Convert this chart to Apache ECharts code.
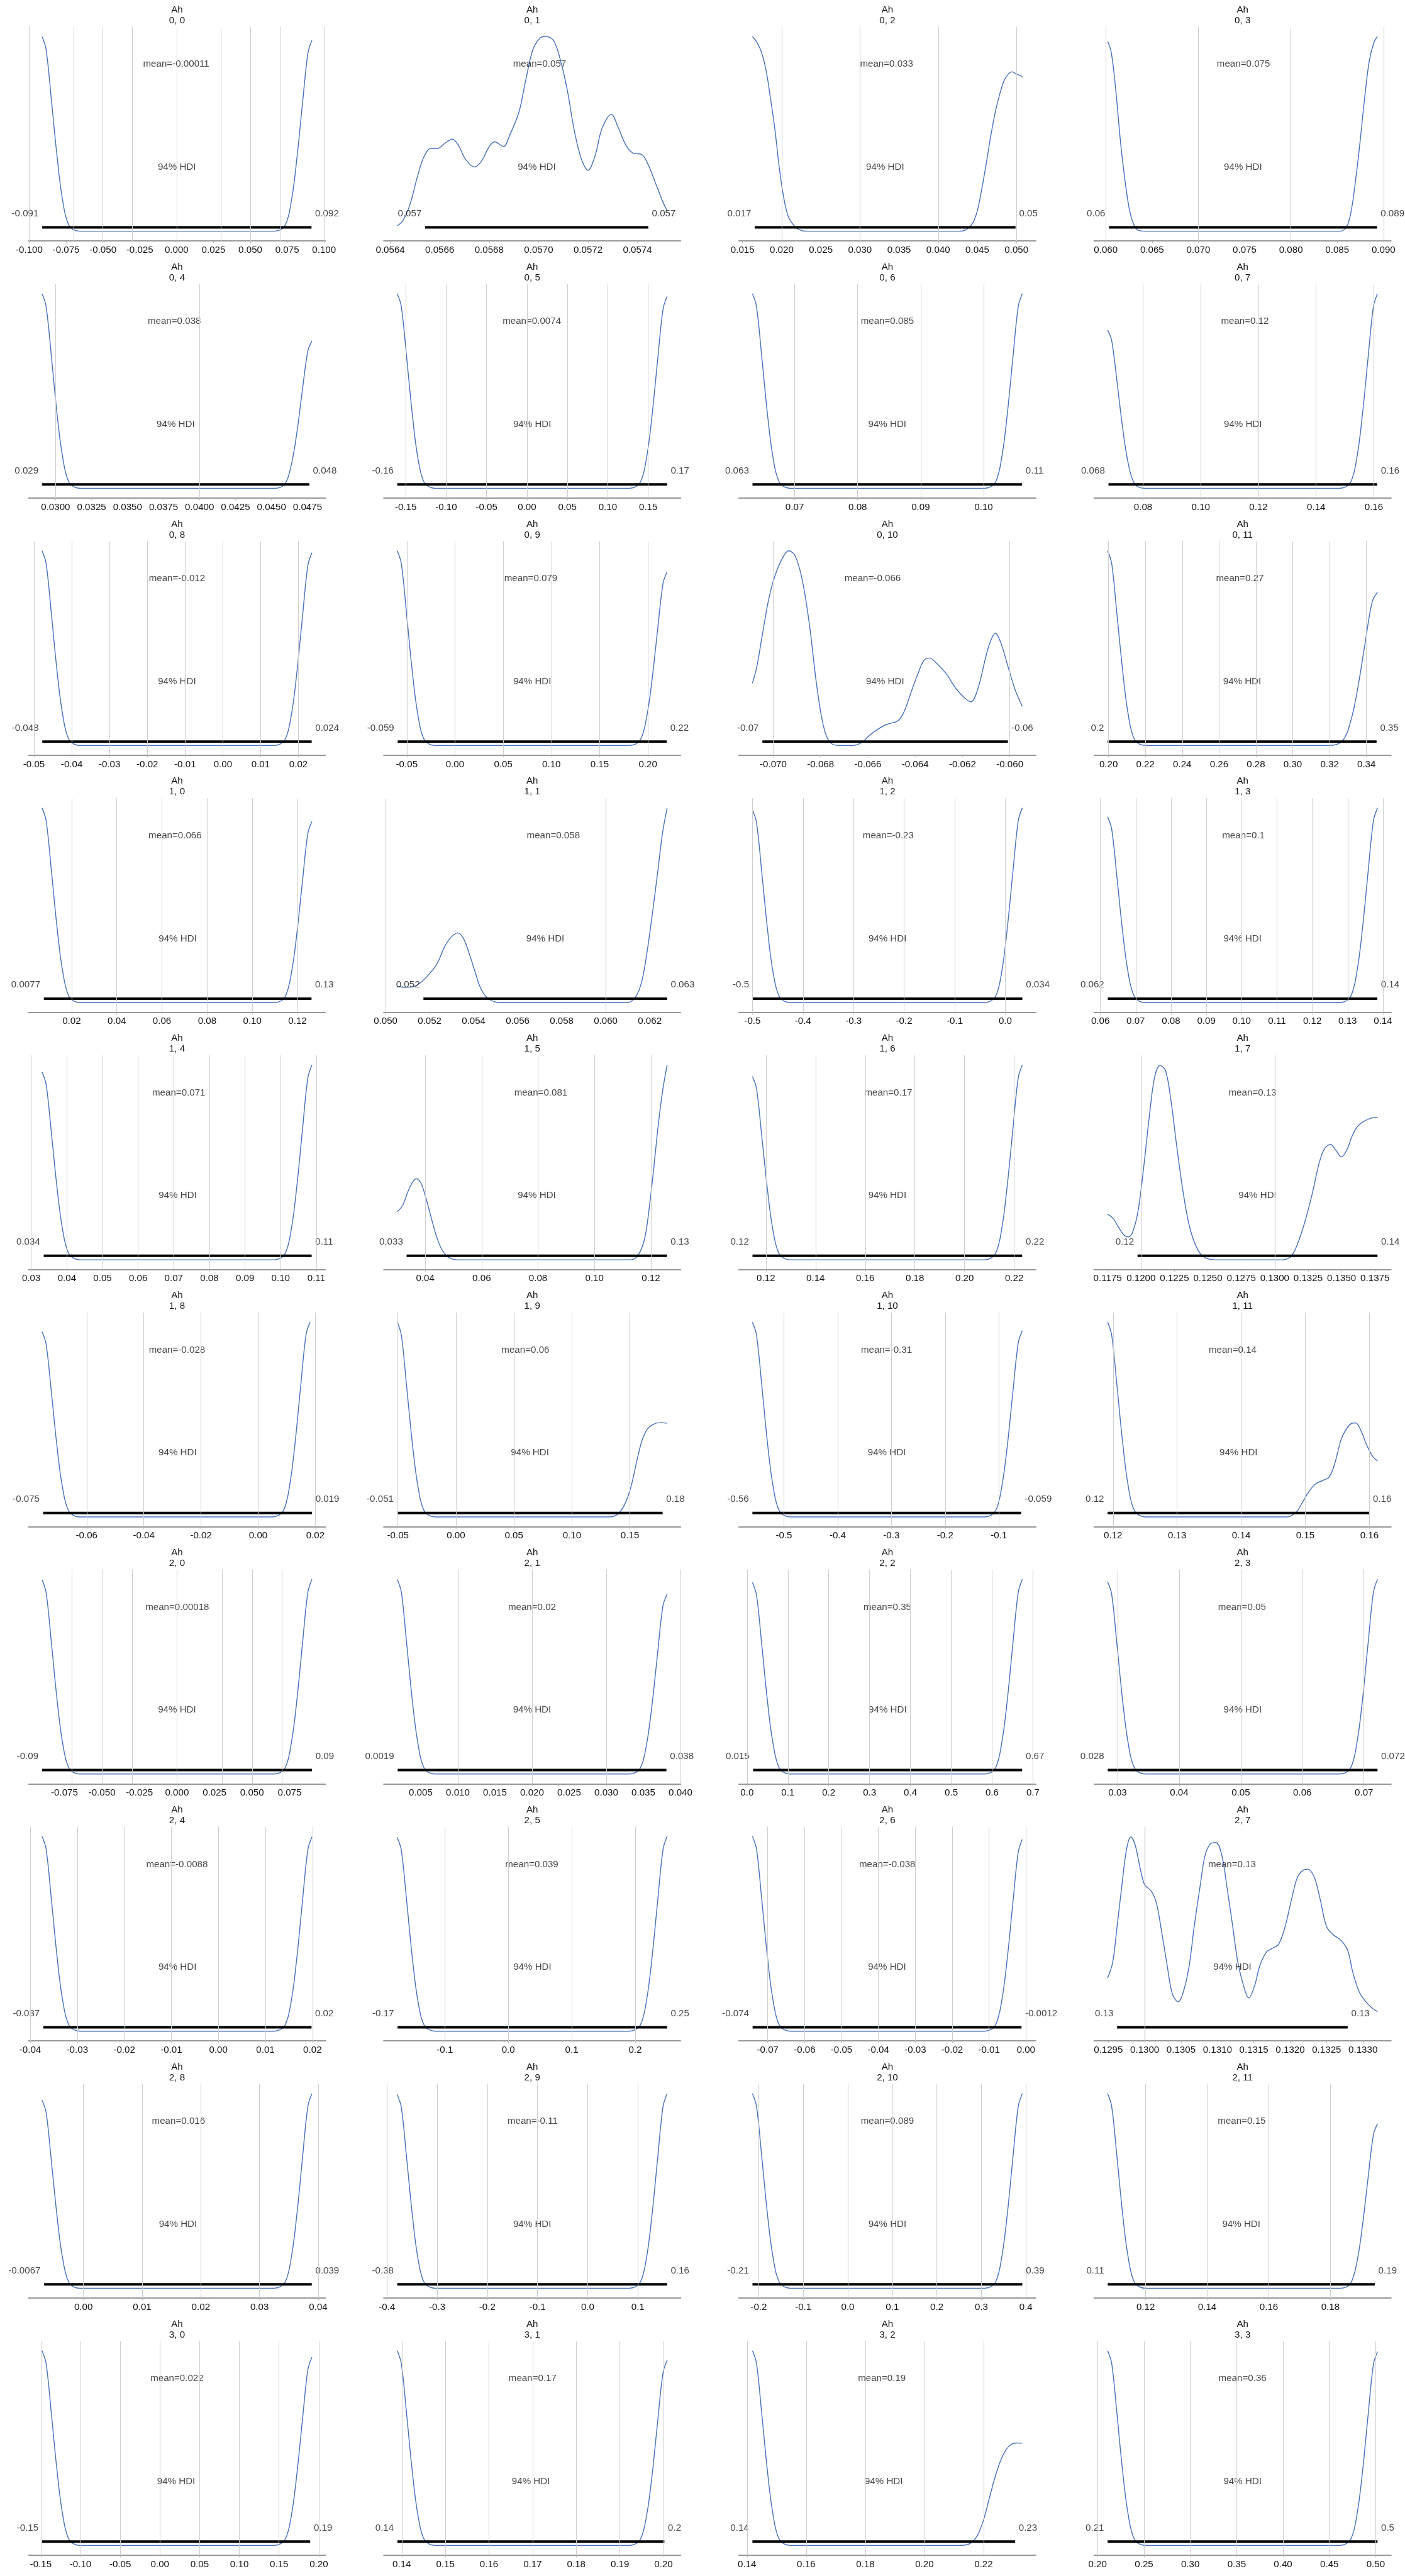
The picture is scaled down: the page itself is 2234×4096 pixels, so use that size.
<!DOCTYPE html>
<html><head><meta charset="utf-8">
<script src="https://cdn.jsdelivr.net/npm/echarts@6/dist/echarts.min.js"></script>
<style>html,body{margin:0;padding:0;background:#fff}#c{width:2234px;height:4096px}</style>
</head><body><div id="c"></div>
<script>
const panelTitles = ['0, 0','0, 1','0, 2','0, 3','0, 4','0, 5','0, 6','0, 7','0, 8','0, 9','0, 10','0, 11',
  '1, 0','1, 1','1, 2','1, 3','1, 4','1, 5','1, 6','1, 7','1, 8','1, 9','1, 10','1, 11',
  '2, 0','2, 1','2, 2','2, 3','2, 4','2, 5','2, 6','2, 7','2, 8','2, 9','2, 10','2, 11',
  '3, 0','3, 1','3, 2','3, 3'];

const tickLabels = [
  ['-0.100','-0.075','-0.050','-0.025','0.000','0.025','0.050','0.075','0.100'],
  ['0.0564','0.0566','0.0568','0.0570','0.0572','0.0574'],
  ['0.015','0.020','0.025','0.030','0.035','0.040','0.045','0.050'],
  ['0.060','0.065','0.070','0.075','0.080','0.085','0.090'],
  ['0.0300','0.0325','0.0350','0.0375','0.0400','0.0425','0.0450','0.0475'],
  ['-0.15','-0.10','-0.05','0.00','0.05','0.10','0.15'],
  ['0.07','0.08','0.09','0.10'],
  ['0.08','0.10','0.12','0.14','0.16'],
  ['-0.05','-0.04','-0.03','-0.02','-0.01','0.00','0.01','0.02'],
  ['-0.05','0.00','0.05','0.10','0.15','0.20'],
  ['-0.070','-0.068','-0.066','-0.064','-0.062','-0.060'],
  ['0.20','0.22','0.24','0.26','0.28','0.30','0.32','0.34'],
  ['0.02','0.04','0.06','0.08','0.10','0.12'],
  ['0.050','0.052','0.054','0.056','0.058','0.060','0.062'],
  ['-0.5','-0.4','-0.3','-0.2','-0.1','0.0'],
  ['0.06','0.07','0.08','0.09','0.10','0.11','0.12','0.13','0.14'],
  ['0.03','0.04','0.05','0.06','0.07','0.08','0.09','0.10','0.11'],
  ['0.04','0.06','0.08','0.10','0.12'],
  ['0.12','0.14','0.16','0.18','0.20','0.22'],
  ['0.1175','0.1200','0.1225','0.1250','0.1275','0.1300','0.1325','0.1350','0.1375'],
  ['-0.06','-0.04','-0.02','0.00','0.02'],
  ['-0.05','0.00','0.05','0.10','0.15'],
  ['-0.5','-0.4','-0.3','-0.2','-0.1'],
  ['0.12','0.13','0.14','0.15','0.16'],
  ['-0.075','-0.050','-0.025','0.000','0.025','0.050','0.075'],
  ['0.005','0.010','0.015','0.020','0.025','0.030','0.035','0.040'],
  ['0.0','0.1','0.2','0.3','0.4','0.5','0.6','0.7'],
  ['0.03','0.04','0.05','0.06','0.07'],
  ['-0.04','-0.03','-0.02','-0.01','0.00','0.01','0.02'],
  ['-0.1','0.0','0.1','0.2'],
  ['-0.07','-0.06','-0.05','-0.04','-0.03','-0.02','-0.01','0.00'],
  ['0.1295','0.1300','0.1305','0.1310','0.1315','0.1320','0.1325','0.1330'],
  ['0.00','0.01','0.02','0.03','0.04'],
  ['-0.4','-0.3','-0.2','-0.1','0.0','0.1'],
  ['-0.2','-0.1','0.0','0.1','0.2','0.3','0.4'],
  ['0.12','0.14','0.16','0.18'],
  ['-0.15','-0.10','-0.05','0.00','0.05','0.10','0.15','0.20'],
  ['0.14','0.15','0.16','0.17','0.18','0.19','0.20'],
  ['0.14','0.16','0.18','0.20','0.22'],
  ['0.20','0.25','0.30','0.35','0.40','0.45','0.50']
];

const curveX = [
  [-0.0913,-0.0886,-0.0849,-0.0812,-0.0776,-0.073,-0.0657,0.0662,0.0735,0.0781,0.0817,0.0854,0.0891,0.0918],
  [0.056428,0.056451,0.056479,0.056507,0.056535,0.056563,0.056591,0.056619,0.056651,0.056676,0.056704,0.056741,0.056769,0.056798,0.056822,0.056858,0.056882,0.05692,0.056948,0.056976,0.057004,0.057028,0.05706,0.057088,0.057116,0.057144,0.057173,0.0572,0.057229,0.057257,0.057294,0.057323,0.057354,0.057384,0.057416,0.057444,0.057473,0.057501,0.05752],
  [0.01626,0.01684,0.01741,0.01799,0.01856,0.01914,0.01971,0.02029,0.02086,0.02172,0.02259,0.02345,0.0427,0.04356,0.04443,0.045,0.04557,0.04615,0.04672,0.0473,0.04787,0.04845,0.04902,0.04942,0.04988,0.05046,0.05075],
  [0.0602,0.06059,0.06108,0.06157,0.06205,0.06254,0.06303,0.06352,0.0645,0.08529,0.08602,0.08651,0.087,0.08749,0.08798,0.08847,0.08896,0.08935],
  [0.02906,0.02934,0.02972,0.03009,0.03047,0.03094,0.03169,0.04519,0.04594,0.0464,0.04678,0.04715,0.04753,0.04781],
  [-0.1605,-0.1555,-0.1488,-0.1421,-0.1355,-0.1271,-0.1138,0.1267,0.14,0.1484,0.155,0.1617,0.1684,0.1734],
  [0.06329,0.06393,0.06479,0.06565,0.0665,0.06758,0.06929,0.10014,0.10185,0.10293,0.10378,0.10464,0.1055,0.10614],
  [0.0677,0.0691,0.07098,0.07285,0.07472,0.07706,0.0808,0.14817,0.15191,0.15425,0.15612,0.15799,0.15987,0.16127],
  [-0.04786,-0.04679,-0.04536,-0.04393,-0.0425,-0.04072,-0.03786,0.01357,0.01643,0.01821,0.01964,0.02107,0.0225,0.02357],
  [-0.0599,-0.0557,-0.0501,-0.0445,-0.0389,-0.0319,-0.0207,0.1808,0.192,0.199,0.2046,0.2102,0.2158,0.22],
  [-0.07088,-0.07069,-0.07046,-0.07019,-0.06992,-0.06962,-0.06935,-0.06908,-0.06878,-0.06847,-0.06817,-0.0679,-0.06763,-0.06725,-0.06664,-0.06626,-0.06595,-0.06561,-0.06523,-0.06473,-0.06447,-0.0642,-0.06389,-0.06363,-0.0634,-0.06305,-0.06267,-0.06229,-0.06191,-0.06164,-0.06134,-0.06103,-0.06084,-0.06061,-0.06038,-0.06008,-0.05977,-0.05947],
  [0.1995,0.2017,0.2046,0.2076,0.2105,0.21415,0.22,0.3193,0.327,0.3317,0.3355,0.3393,0.3431,0.346],
  [0.0069,0.0087,0.0111,0.0135,0.0159,0.0189,0.0236,0.1097,0.1144,0.1174,0.1198,0.1222,0.1246,0.1264],
  [0.05053,0.0509,0.05123,0.05156,0.05193,0.05234,0.05266,0.05295,0.05328,0.05352,0.05377,0.05406,0.0543,0.05459,0.055,0.05541,0.06094,0.06135,0.06164,0.06188,0.06213,0.06238,0.06258,0.06279],
  [-0.5,-0.492,-0.4813,-0.4706,-0.46,-0.4466,-0.4253,-0.041,-0.0197,-0.0063,0.0043,0.015,0.0257,0.0337],
  [0.06205,0.0632,0.06472,0.06625,0.06778,0.06969,0.07275,0.12776,0.13082,0.13273,0.13426,0.13579,0.13731,0.13846],
  [0.03303,0.03417,0.03568,0.0372,0.03871,0.04061,0.04363,0.09818,0.1012,0.1031,0.10461,0.10613,0.10764,0.10878],
  [0.03008,0.032,0.0336,0.0352,0.0368,0.0384,0.04,0.04192,0.04384,0.04576,0.048,0.0512,0.11296,0.11552,0.11776,0.11936,0.12096,0.12256,0.12416,0.12576],
  [0.11457,0.1162,0.11837,0.12057,0.12272,0.12544,0.12977,0.20806,0.21239,0.21511,0.21726,0.21946,0.22163,0.22326],
  [0.1175,0.11791,0.11831,0.11872,0.11906,0.1194,0.1198,0.12021,0.12062,0.12102,0.12143,0.12184,0.12224,0.12265,0.12312,0.1236,0.12414,0.12468,0.12549,0.13058,0.13125,0.13173,0.13227,0.13281,0.13335,0.13376,0.13417,0.13457,0.13498,0.13539,0.13579,0.1362,0.13667,0.13715,0.13769],
  [-0.0756,-0.0742,-0.07232,-0.07044,-0.06857,-0.06623,-0.06248,0.00501,0.00876,0.0111,0.01297,0.01485,0.01673,0.01813],
  [-0.0506,-0.0471,-0.0425,-0.0378,-0.0331,-0.0273,-0.018,0.1315,0.1393,0.1455,0.151,0.1556,0.1603,0.165,0.1704,0.1759,0.1821],
  [-0.5586,-0.5511,-0.541,-0.531,-0.5209,-0.5084,-0.4883,-0.1267,-0.1066,-0.0941,-0.084,-0.074,-0.0639,-0.0564],
  [0.11915,0.11978,0.12062,0.12147,0.12231,0.12336,0.12505,0.14714,0.14855,0.14954,0.15067,0.15166,0.15279,0.15378,0.15463,0.15562,0.15661,0.15731,0.15788,0.15873,0.15958,0.16056,0.16127],
  [-0.0899,-0.0872,-0.0836,-0.08,-0.0764,-0.0719,-0.0647,0.0647,0.0719,0.0764,0.08,0.0836,0.0872,0.0899],
  [0.00184,0.00239,0.00311,0.00384,0.00457,0.00547,0.00693,0.03309,0.03455,0.03545,0.03618,0.03691,0.03763,0.0382],
  [0.0132,0.0231,0.0363,0.0495,0.0628,0.0793,0.1057,0.5815,0.6079,0.6244,0.6377,0.6509,0.6641,0.674],
  [0.02838,0.02904,0.02991,0.03079,0.03167,0.03276,0.03451,0.06607,0.06782,0.06891,0.06979,0.07067,0.07154,0.0722],
  [-0.03748,-0.03662,-0.03547,-0.03432,-0.03318,-0.03174,-0.02945,0.01186,0.01415,0.01559,0.01673,0.01788,0.01903,0.01989],
  [-0.175,-0.1686,-0.1601,-0.1516,-0.1431,-0.1325,-0.1154,0.1908,0.2079,0.2185,0.227,0.2355,0.244,0.2504],
  [-0.07415,-0.07305,-0.07159,-0.07013,-0.06866,-0.06683,-0.06391,-0.01122,-0.0083,-0.00647,-0.005,-0.00354,-0.00208,-0.00098],
  [0.12949,0.12956,0.12962,0.12969,0.12975,0.12981,0.12987,0.12994,0.13,0.13009,0.13016,0.13023,0.13031,0.13038,0.13046,0.13053,0.13061,0.13068,0.13076,0.13083,0.13091,0.13098,0.13106,0.13113,0.13121,0.13128,0.13136,0.13143,0.13151,0.13158,0.13167,0.13175,0.13184,0.13193,0.13202,0.1321,0.13218,0.13224,0.13233,0.13241,0.1325,0.13259,0.1327,0.13279,0.13286,0.13295,0.13304,0.13312,0.1332],
  [-0.00705,-0.00636,-0.00544,-0.00452,-0.0036,-0.00245,-0.00061,0.03249,0.03433,0.03548,0.0364,0.03732,0.03824,0.03893],
  [-0.3795,-0.3714,-0.3607,-0.3499,-0.3392,-0.3257,-0.3042,0.083,0.1045,0.118,0.1287,0.1395,0.1502,0.1583],
  [-0.2141,-0.205,-0.1929,-0.1808,-0.1686,-0.1535,-0.1293,0.3071,0.3313,0.3464,0.3586,0.3707,0.3828,0.3919],
  [0.10765,0.10896,0.11072,0.11247,0.11422,0.11641,0.11992,0.18302,0.18653,0.18872,0.19047,0.19222,0.19398,0.19529],
  [-0.1484,-0.1433,-0.1365,-0.1297,-0.1229,-0.1144,-0.1008,0.1438,0.1574,0.1659,0.1727,0.1795,0.1863,0.1914],
  [0.13897,0.1399,0.14114,0.14237,0.14361,0.14516,0.14763,0.19217,0.19464,0.19619,0.19743,0.19866,0.1999,0.20083],
  [0.14183,0.1432,0.14502,0.14685,0.14867,0.15096,0.15461,0.21149,0.21544,0.21788,0.22,0.22213,0.22396,0.22578,0.22761,0.22943,0.23126,0.23309],
  [0.21075,0.21515,0.22095,0.22675,0.23255,0.23985,0.25155,0.46115,0.47285,0.48015,0.48595,0.49175,0.49755,0.50195]
];

const curveY = [
  [1,0.935,0.67,0.39,0.17,0.03,0,0,0.029,0.167,0.382,0.657,0.916,0.98],
  [0.028,0.054,0.135,0.268,0.38,0.425,0.425,0.45,0.473,0.44,0.37,0.33,0.36,0.43,0.459,0.435,0.49,0.61,0.776,0.93,0.99,1.0,0.98,0.88,0.725,0.52,0.37,0.313,0.39,0.53,0.60,0.53,0.44,0.40,0.395,0.34,0.247,0.156,0.105],
  [1.0,0.97,0.92,0.83,0.685,0.52,0.32,0.166,0.074,0.023,0.003,0,0,0.008,0.044,0.105,0.217,0.35,0.49,0.613,0.705,0.776,0.81,0.819,0.81,0.80,0.794],
  [0.975,0.92,0.725,0.47,0.27,0.115,0.034,0.005,0,0,0.023,0.105,0.268,0.47,0.694,0.877,0.969,1.0],
  [1,0.935,0.67,0.39,0.17,0.03,0,0,0.023,0.129,0.295,0.507,0.707,0.756],
  [1,0.935,0.67,0.39,0.17,0.03,0,0,0.03,0.168,0.385,0.661,0.922,0.986],
  [1,0.935,0.67,0.39,0.17,0.03,0,0,0.03,0.17,0.39,0.67,0.935,1],
  [0.813,0.76,0.545,0.317,0.138,0.024,0,0,0.03,0.17,0.39,0.67,0.935,1],
  [1,0.935,0.67,0.39,0.17,0.03,0,0,0.03,0.168,0.386,0.663,0.926,0.99],
  [1,0.935,0.67,0.39,0.17,0.03,0,0,0.027,0.152,0.348,0.598,0.834,0.892],
  [0.32,0.407,0.569,0.752,0.874,0.96,1.0,0.976,0.854,0.62,0.315,0.112,0.02,0,0,0.015,0.05,0.081,0.107,0.127,0.173,0.264,0.366,0.437,0.449,0.417,0.366,0.295,0.244,0.224,0.295,0.447,0.528,0.577,0.528,0.407,0.285,0.201],
  [1,0.935,0.67,0.39,0.17,0.03,0,0,0.024,0.134,0.307,0.528,0.737,0.788],
  [1,0.935,0.67,0.39,0.17,0.03,0,0,0.028,0.158,0.363,0.623,0.87,0.93],
  [0.084,0.079,0.081,0.1,0.14,0.2,0.282,0.333,0.358,0.333,0.262,0.16,0.079,0.028,0.003,0,0,0.028,0.11,0.262,0.465,0.688,0.871,1.0],
  [0.99,0.926,0.663,0.386,0.168,0.03,0,0,0.03,0.17,0.39,0.67,0.935,1],
  [0.954,0.892,0.639,0.372,0.162,0.029,0,0,0.03,0.17,0.39,0.67,0.935,1],
  [0.964,0.901,0.646,0.376,0.164,0.029,0,0,0.03,0.17,0.39,0.67,0.935,1],
  [0.247,0.279,0.34,0.391,0.416,0.396,0.33,0.228,0.127,0.056,0.015,0,0,0.025,0.107,0.259,0.462,0.685,0.868,1.0],
  [0.941,0.88,0.63,0.367,0.16,0.028,0,0,0.03,0.17,0.39,0.67,0.935,1],
  [0.234,0.213,0.168,0.127,0.117,0.147,0.259,0.482,0.736,0.939,0.998,0.97,0.817,0.594,0.36,0.178,0.066,0.015,0,0,0.02,0.086,0.198,0.34,0.503,0.574,0.592,0.563,0.528,0.563,0.635,0.685,0.711,0.726,0.731],
  [0.951,0.889,0.637,0.371,0.162,0.029,0,0,0.03,0.17,0.39,0.67,0.935,1],
  [1,0.935,0.67,0.39,0.17,0.03,0,0,0.013,0.064,0.156,0.278,0.39,0.451,0.476,0.484,0.481],
  [1,0.935,0.67,0.39,0.17,0.03,0,0,0.029,0.163,0.373,0.641,0.895,0.957],
  [1,0.935,0.67,0.39,0.17,0.03,0,0,0.023,0.074,0.135,0.171,0.188,0.207,0.278,0.4,0.461,0.481,0.483,0.44,0.369,0.308,0.288],
  [0.997,0.932,0.668,0.389,0.169,0.03,0,0,0.03,0.17,0.39,0.67,0.935,1],
  [1,0.935,0.67,0.39,0.17,0.03,0,0,0.028,0.157,0.36,0.618,0.863,0.923],
  [0.984,0.92,0.659,0.384,0.167,0.03,0,0,0.03,0.17,0.39,0.67,0.935,1],
  [0.987,0.923,0.661,0.385,0.168,0.03,0,0,0.03,0.17,0.39,0.67,0.935,1],
  [1,0.935,0.67,0.39,0.17,0.03,0,0,0.03,0.17,0.389,0.669,0.933,0.998],
  [0.995,0.93,0.667,0.388,0.169,0.03,0,0,0.03,0.17,0.39,0.67,0.935,1],
  [1,0.935,0.67,0.39,0.17,0.03,0,0,0.03,0.167,0.384,0.66,0.921,0.985],
  [0.273,0.354,0.537,0.761,0.934,0.998,0.954,0.832,0.751,0.72,0.659,0.517,0.334,0.191,0.151,0.201,0.334,0.537,0.741,0.903,0.964,0.969,0.903,0.741,0.537,0.354,0.232,0.171,0.232,0.334,0.405,0.425,0.446,0.537,0.68,0.791,0.827,0.832,0.791,0.68,0.537,0.496,0.466,0.415,0.303,0.201,0.151,0.12,0.1],
  [0.966,0.903,0.647,0.377,0.164,0.029,0,0,0.03,0.17,0.39,0.67,0.935,1],
  [0.995,0.93,0.667,0.388,0.169,0.03,0,0,0.03,0.17,0.39,0.67,0.935,1],
  [1,0.935,0.67,0.39,0.17,0.03,0,0,0.03,0.17,0.39,0.67,0.935,1],
  [1,0.935,0.67,0.39,0.17,0.03,0,0,0.025,0.144,0.33,0.566,0.79,0.845],
  [1,0.935,0.67,0.39,0.17,0.03,0,0,0.029,0.164,0.377,0.647,0.903,0.966],
  [1,0.935,0.67,0.39,0.17,0.03,0,0,0.029,0.162,0.371,0.637,0.889,0.951],
  [1,0.935,0.67,0.39,0.17,0.03,0,0,0.01,0.051,0.132,0.254,0.355,0.437,0.492,0.52,0.526,0.525],
  [1,0.935,0.67,0.39,0.17,0.03,0,0,0.03,0.169,0.388,0.667,0.93,0.995]
];

const meanPos = [-0.0003,0.057004,0.0334,0.07487,0.03825,0.006,0.08471,0.1153,-0.01214,0.0786,-0.0658,0.2713,
  0.0658,0.05762,-0.2314,0.1005,0.0714,0.081,0.1693,0.12834,-0.0284,0.0599,-0.3092,0.13866,
  0.00018,0.02,0.3436,0.0502,-0.0088,0.037,-0.0376,0.1312,0.0162,-0.1097,0.0889,0.1512,
  0.0215,0.17,0.1856,0.3563];
const meanText = ['mean=-0.00011','mean=0.057','mean=0.033','mean=0.075','mean=0.038','mean=0.0074','mean=0.085','mean=0.12','mean=-0.012','mean=0.079','mean=-0.066','mean=0.27',
  'mean=0.066','mean=0.058','mean=-0.23','mean=0.1','mean=0.071','mean=0.081','mean=0.17','mean=0.13','mean=-0.028','mean=0.06','mean=-0.31','mean=0.14',
  'mean=0.00018','mean=0.02','mean=0.35','mean=0.05','mean=-0.0088','mean=0.039','mean=-0.038','mean=0.13','mean=0.016','mean=-0.11','mean=0.089','mean=0.15',
  'mean=0.022','mean=0.17','mean=0.19','mean=0.36'];
const hdiLow = [-0.0912,0.056541,0.01655,0.06034,0.02906,-0.1605,0.0633,0.068,-0.0478,-0.0594,-0.07046,0.1995,
  0.0077,0.05172,-0.4995,0.0621,0.0335,0.0334,0.1146,0.11974,-0.0752,-0.0506,-0.5586,0.11915,
  -0.0899,0.0019,0.0148,0.0284,-0.0372,-0.1745,-0.0741,0.12962,-0.0067,-0.3795,-0.2141,0.1077,
  -0.1484,0.139,0.14183,0.21075];
const hdiHigh = [0.0915,0.057444,0.04988,0.0893,0.04763,0.1734,0.1061,0.1612,0.0235,0.2195,-0.06008,0.3455,
  0.1262,0.06279,0.0337,0.1384,0.1087,0.1257,0.2232,0.13769,0.0188,0.1782,-0.0585,0.16,
  0.0899,0.0381,0.6735,0.0722,0.0198,0.2504,-0.0012,0.13279,0.0389,0.1583,0.3919,0.1944,
  0.1892,0.2002,0.23065,0.50195];
const hdiLowText = ['-0.091','0.057','0.017','0.06','0.029','-0.16','0.063','0.068','-0.048','-0.059','-0.07','0.2',
  '0.0077','0.052','-0.5','0.062','0.034','0.033','0.12','0.12','-0.075','-0.051','-0.56','0.12',
  '-0.09','0.0019','0.015','0.028','-0.037','-0.17','-0.074','0.13','-0.0067','-0.38','-0.21','0.11',
  '-0.15','0.14','0.14','0.21'];
const hdiHighText = ['0.092','0.057','0.05','0.089','0.048','0.17','0.11','0.16','0.024','0.22','-0.06','0.35',
  '0.13','0.063','0.034','0.14','0.11','0.13','0.22','0.14','0.019','0.18','-0.059','0.16',
  '0.09','0.038','0.67','0.072','0.02','0.25','-0.0012','0.13','0.039','0.16','0.39','0.19',
  '0.19','0.2','0.23','0.5'];
const varName = 'Ah';
const hdiName = '94% HDI';

const S = 0.946;
const FONT = 'Liberation Sans, Arial, Helvetica, sans-serif';
const TXT = '#151515';
const grids = [], xAxes = [], yAxes = [], series = [], titles = [];
for (let i = 0; i < panelTitles.length; i++) {
  const r = Math.floor(i / 4), c = i % 4;
  const leftRef = 48 + 597 * c, topRef = 45 + 432.2 * r;
  grids.push({left: leftRef * S, top: topRef * S, width: 499 * S, height: 360 * S, containLabel: false, outerBoundsMode: 'none'});
  const xs = curveX[i];
  const lo = Math.min(...xs, hdiLow[i]), hi = Math.max(...xs, hdiHigh[i]);
  const m = 0.05 * (hi - lo);
  const tl = tickLabels[i];
  const ticks = tl.map(Number);
  xAxes.push({
    type: 'value', gridIndex: i, min: lo - m, max: hi + m, scale: true,
    axisLine: {show: true, onZero: false, lineStyle: {color: '#989898', width: 2.2 * S}},
    axisTick: {show: true, customValues: ticks, length: 3.5 * S, lineStyle: {color: '#b4b4b4', width: 1 * S}},
    splitLine: {show: false},
    axisLabel: {
      show: true, customValues: ticks, fontSize: 16 * S, color: TXT, margin: 7.5 * S, fontFamily: FONT,
      formatter: function (v) {
        let k = 0, best = Infinity;
        ticks.forEach(function (t, j) { const d = Math.abs(t - v); if (d < best) { best = d; k = j; } });
        return tl[k];
      }
    }
  });
  yAxes.push({type: 'value', gridIndex: i, min: -0.05, max: 1.05, show: false});
  titles.push({
    text: varName + '\n' + panelTitles[i], left: (leftRef + 249.5) * S, top: (topRef - 37.5) * S,
    textAlign: 'center', padding: 0,
    textStyle: {fontSize: 16 * S, fontWeight: 'normal', color: TXT, lineHeight: 18 * S, fontFamily: FONT}
  });
  // grid lines at ticks
  series.push({
    type: 'line', xAxisIndex: i, yAxisIndex: i, data: [[ticks[0], -1]], showSymbol: false, symbol: 'none',
    lineStyle: {opacity: 0}, silent: true, z: 1, animation: false,
    markLine: {silent: true, symbol: ['none', 'none'], label: {show: false}, animation: false,
      lineStyle: {color: '#cfcfcf', width: 1.1 * S, type: 'solid'},
      emphasis: {disabled: true},
      data: ticks.map(function (t) { return {xAxis: t}; })}
  });
  // KDE curve
  series.push({
    type: 'line', xAxisIndex: i, yAxisIndex: i, z: 2, animation: false, silent: true,
    data: xs.map(function (x, j) { return [x, curveY[i][j]]; }),
    smooth: 0.35, showSymbol: false, symbol: 'none',
    lineStyle: {color: '#4672bd', width: 1.5 * S}
  });
  // HDI bar
  series.push({
    type: 'line', xAxisIndex: i, yAxisIndex: i, z: 3, animation: false, silent: true,
    data: [[hdiLow[i], 0.0202], [hdiHigh[i], 0.0202]], showSymbol: false, symbol: 'none',
    lineStyle: {color: '#000000', width: 4.2 * S, cap: 'butt'}
  });
  // texts
  const lab = {show: true, color: TXT, fontSize: 16 * S, fontFamily: FONT};
  series.push({
    type: 'scatter', xAxisIndex: i, yAxisIndex: i, z: 4, animation: false, silent: true, symbolSize: 0,
    label: lab,
    data: [
      {value: [meanPos[i], 0.857], label: Object.assign({}, lab, {position: 'inside', formatter: meanText[i]})},
      {value: [(hdiLow[i] + hdiHigh[i]) / 2, 0.329], label: Object.assign({}, lab, {position: 'inside', formatter: hdiName})},
      {value: [hdiLow[i], 0.0904], label: Object.assign({}, lab, {position: 'left', distance: 6 * S, formatter: hdiLowText[i]})},
      {value: [hdiHigh[i], 0.0904], label: Object.assign({}, lab, {position: 'right', distance: 6 * S, formatter: hdiHighText[i]})}
    ]
  });
}
const chart = echarts.init(document.getElementById('c'));
chart.setOption({
  animation: false, backgroundColor: '#ffffff',
  title: titles, grid: grids, xAxis: xAxes, yAxis: yAxes, series: series
});
</script></body></html>
